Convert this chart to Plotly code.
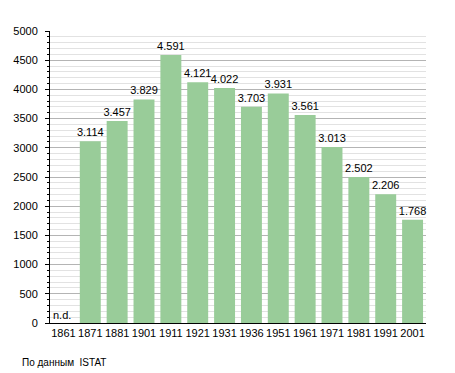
import plotly.graph_objects as go

years = ["1861", "1871", "1881", "1901", "1911", "1921", "1931", "1936",
         "1951", "1961", "1971", "1981", "1991", "2001"]
population = [None, 3114, 3457, 3829, 4591, 4121, 4022, 3703,
              3931, 3561, 3013, 2502, 2206, 1768]
y_ticks = [0, 500, 1000, 1500, 2000, 2500, 3000, 3500, 4000, 4500, 5000]
missing_label = "n.d."
source_note = "По данным  ISTAT"

FONT = "Liberation Sans, Arial, sans-serif"

def fmt(v):
    return "" if v is None else f"{v:,}".replace(",", ".")

labels = [fmt(v) for v in population]

fig = go.Figure()
fig.add_trace(go.Bar(
    x=years, y=population,
    text=labels, textposition="outside", cliponaxis=False,
    constraintext="none",
    textfont=dict(family=FONT, size=11, color="#000"),
    marker=dict(color="#99cc99", line=dict(width=0)),
    hoverinfo="x+y",
))

for i, v in enumerate(population):
    if v is None:
        fig.add_annotation(x=i - 0.47, y=0, yanchor="bottom", xanchor="left",
                           text=missing_label, showarrow=False, yshift=0,
                           font=dict(family=FONT, size=11, color="#000"))

fig.add_annotation(xref="paper", yref="paper", x=-0.080, y=-0.134,
                   xanchor="left", yanchor="middle", showarrow=False,
                   text=source_note,
                   font=dict(family=FONT, size=10, color="#000"))

fig.update_layout(
    width=447, height=365,
    margin=dict(l=42, r=29, t=23, b=50),
    paper_bgcolor="white", plot_bgcolor="white",
    bargap=0.22, showlegend=False,
    font=dict(family=FONT, size=11, color="#000"),
    xaxis=dict(type="category", range=[-0.5, len(years) - 0.5],
               showline=True, linecolor="#000", linewidth=1, ticks="",
               showgrid=False, tickfont=dict(size=11), tickangle=0,
               automargin=False),
    yaxis=dict(range=[0, 5000], tickvals=y_ticks, showline=True, linecolor="#000",
               linewidth=1, ticks="outside", ticklen=4, tickcolor="#000",
               showgrid=True, gridcolor="#b4b4b4", gridwidth=1, zeroline=False,
               tickfont=dict(size=11), ticklabelstandoff=5, automargin=False,
               minor=dict(dtick=100, showgrid=True, gridcolor="#e2e2e2",
                          ticks="outside", ticklen=2, tickcolor="#000")),
)

fig.write_html("out.html")
